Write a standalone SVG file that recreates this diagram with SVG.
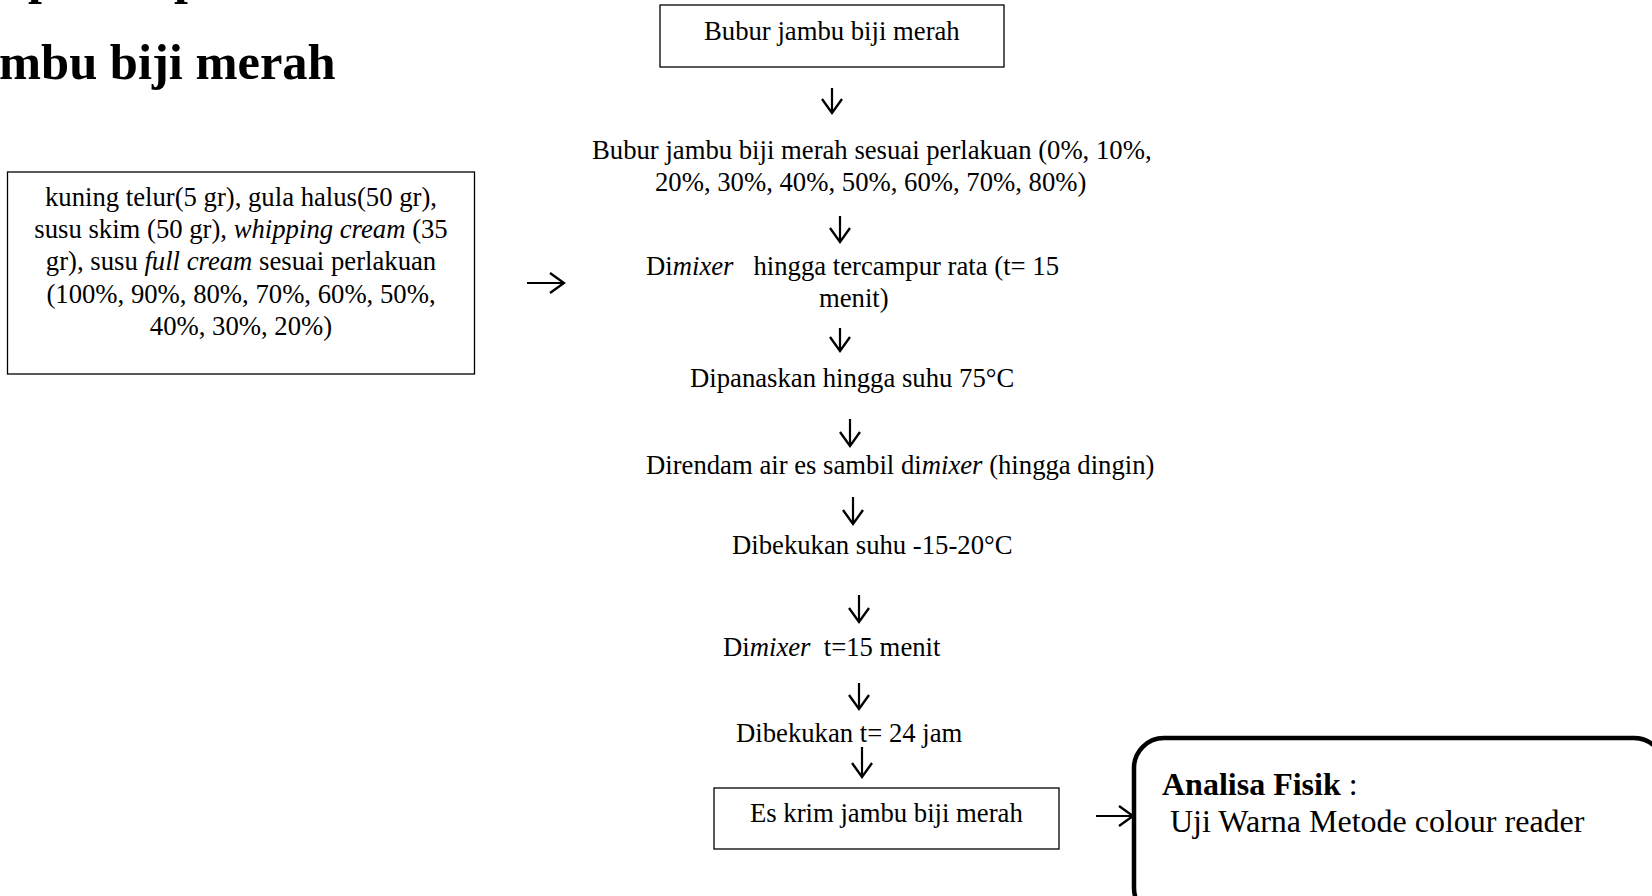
<svg xmlns="http://www.w3.org/2000/svg" width="1652" height="896" viewBox="0 0 1652 896">
<style>
text{font-family:"Liberation Serif","Times New Roman",serif;font-size:26.7px;fill:#000;white-space:pre}
.b{font-weight:bold}
.i{font-style:italic}
.mid{text-anchor:middle}
.box{fill:#fff;stroke:#000;stroke-width:1.3}
.rbox{fill:none;stroke:#000;stroke-width:4.5}
.arr{fill:none;stroke:#000;stroke-width:2.2;marker-end:url(#head)}
.big{font-size:32px}
</style>
<defs>
<marker id="head" viewBox="0 0 24 24" refX="17" refY="12" markerWidth="24" markerHeight="24" markerUnits="userSpaceOnUse" orient="auto">
<path d="M3 2 L17 12 L3 22" fill="none" stroke="#000" stroke-width="2.3"/>
</marker>
</defs>
<g id="title">
<text class="b" x="28" y="-7" style="font-size:50px">p</text>
<text class="b" x="174" y="-7" style="font-size:50px">p</text>
<text class="b" x="-1" y="79" style="font-size:50.5px">mbu biji merah</text>
</g>
<g id="connectors">
<path class="arr" d="M832 88 V113"/>
<path class="arr" d="M840 216 V242"/>
<path class="arr" d="M840 328 V351"/>
<path class="arr" d="M527 283 H564"/>
<path class="arr" d="M850 419 V446"/>
<path class="arr" d="M853 497 V524"/>
<path class="arr" d="M859 595 V622"/>
<path class="arr" d="M859 683 V709"/>
<path class="arr" d="M862 747 V777"/>
<path class="arr" d="M1096 816 H1133"/>
</g>
<g id="n-bubur">
<rect class="box" x="660" y="5" width="344" height="62"/>
<text x="704" y="40">Bubur jambu biji merah</text>
</g>
<g id="n-bahan">
<rect class="box" x="7.5" y="172" width="467" height="202"/>
<text class="mid" x="241" y="206">kuning telur(5 gr), gula halus(50 gr),</text>
<text class="mid" x="241" y="238">susu skim (50 gr), <tspan class="i">whipping cream</tspan> (35</text>
<text class="mid" x="241" y="270">gr), susu <tspan class="i">full cream</tspan> sesuai perlakuan</text>
<text class="mid" x="241" y="303">(100%, 90%, 80%, 70%, 60%, 50%,</text>
<text class="mid" x="241" y="335">40%, 30%, 20%)</text>
</g>
<g id="n-perlakuan">
<text x="592" y="159">Bubur jambu biji merah sesuai perlakuan (0%, 10%,</text>
<text x="655" y="191">20%, 30%, 40%, 50%, 60%, 70%, 80%)</text>
</g>
<g id="n-mixer1">
<text x="646" y="275">Di<tspan class="i">mixer</tspan>   hingga tercampur rata (t= 15</text>
<text x="819" y="307">menit)</text>
</g>
<g id="n-panas">
<text x="690" y="387">Dipanaskan hingga suhu 75°C</text>
</g>
<g id="n-rendam">
<text x="646" y="474">Direndam air es sambil di<tspan class="i">mixer</tspan> (hingga dingin)</text>
</g>
<g id="n-beku1">
<text x="732" y="554">Dibekukan suhu -15-20°C</text>
</g>
<g id="n-mixer2">
<text x="723" y="656">Di<tspan class="i">mixer</tspan>  t=15 menit</text>
</g>
<g id="n-beku2">
<text x="736" y="742">Dibekukan t= 24 jam</text>
</g>
<g id="n-eskrim">
<rect class="box" x="714" y="788" width="345" height="61"/>
<text x="750" y="822">Es krim jambu biji merah</text>
</g>
<g id="n-analisa">
<rect class="rbox" x="1134" y="738" width="530" height="180" rx="30" ry="30"/>
<text class="big" x="1162" y="795"><tspan class="b">Analisa Fisik</tspan> :</text>
<text class="big" x="1162" y="832"> Uji Warna Metode colour reader</text>
</g>
</svg>
